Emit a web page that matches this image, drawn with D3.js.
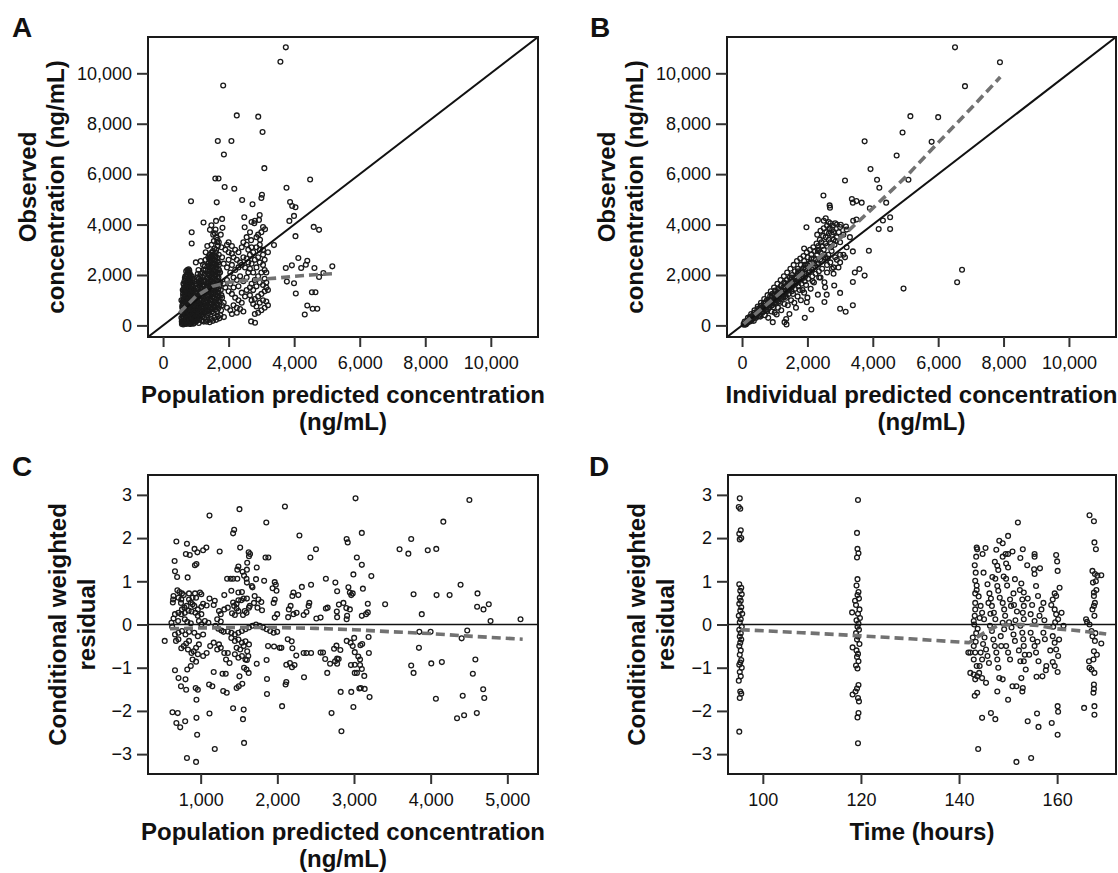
<!DOCTYPE html>
<html>
<head>
<meta charset="utf-8">
<script src="https://cdn.jsdelivr.net/npm/d3@7"></script>
<style>
  body { margin: 0; background: #fff; }
  svg { display: block; }
  text { font-family: Arial, "Liberation Sans", Helvetica, sans-serif; fill: #111; }
</style>
</head>
<body>
<svg id="chart" width="1118" height="873"></svg>
<script>
// ---------- data ----------

// A: population predicted (x) vs observed (y), ng/mL
const predObsPoints = [
  [3745,11030],[3580,10460],[1834,9515],[2249,8330],[2904,8280],[3035,7670],[1670,7317],[2085,7317],[1856,6777],[3090,6238],
  [1594,5830],[1692,5830],[4487,5790],[1878,5488],[2172,5422],[3766,5460],[852,4922],[1637,4882],[2413,4974],[2729,4803],
  [3000,5053],[3017,5185],[3875,4895],[3940,4737],[4040,4685],[3995,4343],[3853,4145],[2478,4290],[2926,4185],[2784,4053],
  [2948,4382],[4596,3908],[4760,3790],[4040,3540],[3384,3185],[873,3698],[873,3250],[1234,4080],[1616,4145],[1801,4224],
  [1474,3974],[1430,3790],[1812,3869],[2489,3895],[2653,3698],[2959,3395],[2686,3382],[3111,3816],[4127,2671],[4400,2566],
  [4356,2408],[4214,2276],[3930,2382],[3744,2276],[3777,1737],[3995,1671],[4619,2276],[4760,1921],[4891,2079],[5164,2342],
  [4050,1263],[4541,1316],[4650,1316],[4400,790],[4564,658],[4705,658],[4323,434],[2686,158],[2806,105],[1856,329],
  [1760,3600],[1700,3300],[1780,3100],[1900,3000],[2000,2900],[2100,2850],[2150,2700],[2250,2600],[2350,2500],[2450,2700],
  [2550,2650],[2600,2500],[2400,2400],[2300,2300],[2200,2200],[2100,2400],[2000,2600],[1950,2300],[1850,2450],[1800,2700],
  [2050,2100],[2150,1900],[2250,1800],[2350,1950],[1950,1800],[1850,1650],[1900,1500],[2000,1350],[2100,1250],[2200,1100],
  [2300,1000],[2400,900],[2150,800],[2250,700],[2050,600],[1950,700],[1850,900],[1800,1100],[2350,650],[2450,550],
  [2250,500],[2100,450],[2400,1300],[2500,1150],[2550,1400],[2150,1500],[2050,1650],[2300,1550],[2450,1750],[2550,1900],
  [2600,2100],[2500,2300],[2650,2800],[2750,2900],[2850,3100],[2950,3000],[3050,2800],[2900,2700],[2800,2600],[2700,2450],
  [2650,2250],[2750,2100],[2850,2300],[2950,2500],[3050,2400],[3100,2200],[3000,2100],[2900,1950],[2800,1800],[2700,1650],
  [2650,1500],[2750,1400],[2850,1550],[2950,1700],[3050,1600],[3150,1500],[3100,1350],[3000,1250],[2900,1150],[2800,1050],
  [2700,1000],[2650,1200],[2750,850],[2850,750],[2950,900],[3050,1000],[3150,950],[3200,800],[3100,700],[3000,600],
  [2900,500],[2800,450],[3150,1700],[3100,1850],[3200,1400],[2700,3100],[2600,3000],[2550,3200],[3050,3000],[3100,2600],
  [2950,3200],[3000,3700],[2900,3600],[2850,3500],[3050,3900],[2800,4150],[2700,4100],[2550,3500],[2400,3100],[2300,2900],
  [2200,3000],[2100,3150],[2000,3300],[1950,3200],[2450,3300],[3200,2900],[3150,2100],
  [600,100],[650,80],[700,60],[750,90],[800,70],[850,120],[900,150],[950,110],[620,200],[680,250],
  [720,180],[780,230],[830,300],[880,260],[930,220],[980,280],[610,350],[660,400],[710,330],[760,420],
  [810,380],[860,450],[910,400],[960,350],[640,500],[690,560],[740,480],[790,600],[840,530],[890,580],
  [940,520],[990,600],[600,650],[650,720],[700,680],[750,760],[800,700],[850,800],[900,740],[950,820],
  [620,880],[670,950],[720,900],[770,1000],[820,940],[870,1050],[920,980],[970,1100],[630,1050],[680,1150],
  [730,1100],[780,1200],[830,1150],[880,1250],[930,1200],[980,1300],[610,1250],[660,1350],[710,1300],[760,1400],
  [810,1350],[860,1450],[910,1500],[640,1500],[690,1600],[740,1550],[790,1650],[840,1700],[890,1620],[650,1750],
  [700,1850],[750,1800],[800,1900],[850,1950],[720,2000],[770,2100],[820,2050],[740,2200],[800,2180],[680,1950],
  [900,1850],[950,1750],[1000,1650],[560,300],[580,500],[570,150],[590,800],[560,1000],[600,1400],[620,1650],
  [575,60],[615,40],[660,130],[705,110],[745,160],[790,140],[835,60],[880,90],[925,70],[965,180],
  [590,260],[635,310],[675,190],[725,270],[770,330],[815,210],[860,340],[905,310],[945,260],[995,420],
  [605,460],[650,580],[695,440],[735,610],[775,520],[820,470],[865,650],[915,630],[955,560],[585,720],
  [630,830],[675,760],[715,820],[760,870],[805,810],[845,900],[895,880],[945,930],[600,960],[645,1000],
  [690,1060],[735,980],[785,1080],[825,1020],[875,1150],[920,1090],[965,1180],[615,1150],[655,1220],[700,1190],
  [745,1260],[790,1300],[840,1270],[885,1380],[935,1330],[625,1360],[675,1450],[720,1420],[765,1500],[815,1470],
  [860,1560],[905,1400],[645,1620],[695,1700],[735,1680],[775,1750],[825,1800],[870,1730],[665,1880],[715,1930],
  [760,1970],[810,2000],[755,2120],[705,2150],[780,2230],[830,1880],[880,1950],
  [1020,200],[1060,300],[1100,250],[1150,400],[1200,350],[1250,500],[1050,500],[1100,650],[1150,600],[1200,750],
  [1250,700],[1030,800],[1080,900],[1130,850],[1180,1000],[1230,950],[1050,1100],[1100,1200],[1150,1150],[1200,1300],
  [1250,1250],[1080,1400],[1130,1500],[1180,1450],[1230,1600],[1100,1700],[1160,1800],[1210,1900],[1260,2000],[1050,1900],
  [1290,2200],[1220,2400],[1150,2550],[1000,2500],[1300,2600],[1280,1400],[1290,900],[1270,300],[1010,1000],[1040,1300],
  [1010,150],[1090,100],[1170,200],[1240,150],[1120,480],[1190,550],[1070,700],[1160,820],[1240,850],[1020,1150],
  [1120,1050],[1210,1150],[1060,1500],[1190,1600],[1260,1750],[1130,1950],[1200,2100],[1080,2200],
  [1035,380],[1085,420],[1135,300],[1185,180],[1225,430],[1275,620],[1015,620],[1065,780],[1115,760],[1165,680],
  [1215,880],[1265,1050],[1005,1250],[1045,920],[1095,1020],[1145,1300],[1195,1200],[1245,1400],[1025,1450],[1075,1600],
  [1125,1650],[1175,1700],[1225,1780],[1275,1550],[1035,1750],[1085,1850],[1145,2050],[1235,2200],[1275,2350],[1060,2050],
  [1320,150],[1370,200],[1420,130],[1470,250],[1520,180],[1570,300],[1620,220],[1670,350],[1720,280],[1340,400],
  [1390,480],[1440,420],[1490,550],[1540,500],[1590,620],[1640,560],[1690,680],[1330,700],[1380,780],[1430,720],
  [1480,850],[1530,800],[1580,920],[1630,870],[1680,1000],[1730,950],[1350,1000],[1400,1080],[1450,1020],[1500,1150],
  [1550,1100],[1600,1230],[1650,1180],[1700,1300],[1320,1300],[1370,1380],[1420,1320],[1470,1450],[1520,1400],[1570,1530],
  [1620,1480],[1670,1600],[1720,1550],[1340,1600],[1390,1680],[1440,1620],[1490,1750],[1540,1700],[1590,1830],[1640,1780],
  [1690,1900],[1360,1900],[1410,1980],[1460,1920],[1510,2050],[1560,2000],[1610,2130],[1660,2080],[1710,2200],[1380,2200],
  [1430,2280],[1480,2350],[1530,2300],[1580,2430],[1630,2380],[1680,2500],[1400,2500],[1450,2580],[1500,2650],[1550,2600],
  [1600,2730],[1650,2680],[1700,2800],[1420,2800],[1470,2880],[1520,2950],[1570,3050],[1620,3000],[1670,3150],[1480,3200],
  [1550,3350],[1620,3500],[1580,3650],[1530,3600],[1650,3300],[1350,3150],[1300,2900],[1700,2400],[1740,2100],[1750,1700],
  [1760,1400],[1780,1200],[1800,800],[1770,600],[1750,400],[1380,2700],[1600,3800],[1660,3400],
  [1310,550],[1360,620],[1410,580],[1460,700],[1510,650],[1560,760],[1610,720],[1660,820],[1710,800],[1320,900],
  [1370,950],[1430,880],[1480,1000],[1530,960],[1580,1080],[1630,1040],[1680,1150],[1730,1100],[1340,1180],[1390,1230],
  [1440,1170],[1490,1300],[1540,1260],[1590,1380],[1640,1330],[1690,1450],[1330,1470],[1380,1530],[1430,1480],[1480,1600],
  [1530,1560],[1580,1680],[1630,1640],[1680,1760],[1350,1750],[1400,1830],[1450,1780],[1500,1900],[1550,1860],[1600,1980],
  [1650,1940],[1700,2050],[1370,2050],[1420,2130],[1470,2080],[1520,2200],[1570,2160],[1620,2280],[1670,2240],[1390,2350],
  [1440,2420],[1490,2500],[1540,2450],[1590,2580],[1640,2540],[1410,2650],[1460,2720],[1510,2800],[1560,2760],[1610,2880]
];
const predObsTrend = [[500,500],[1000,1150],[1500,1550],[2000,1710],[2500,1780],[3000,1830],[3500,1880],[4000,1950],[4500,2000],[5200,2050]];

// B: individual predicted (x) vs observed (y), ng/mL
const ipredObsPoints = [
  [6515,11030],[7890,10440],[6820,9490],[5150,8300],[6000,8260],[4910,7650],[3750,7300],[5800,7280],[4730,6740],[3930,6200],
  [3150,5750],[4130,5780],[4200,5460],[5090,5780],[2490,5150],[3360,5010],[3500,4930],[3660,4870],[3390,4870],[4410,4870],
  [3910,4650],[2680,4760],[2690,4670],[4530,4290],[4310,4160],[4180,3820],[4530,3820],[2320,4185],[1970,3895],[2560,4250],
  [2850,4050],[3020,3990],[3180,3920],[3390,2935],[3880,2960],[1900,3050],[3590,2240],[3450,2100],[3750,1975],[3390,1720],
  [2820,1580],[2520,1710],[2540,1510],[2320,1220],[2590,1220],[3000,1290],[2520,930],[3390,800],[3000,660],[3170,540],
  [4940,1460],[6580,1710],[6730,2210],[1920,300],[2120,630],[1980,920],[940,130],[1360,40],[1300,130],[1060,430],
  [50,60],[100,90],[150,180],[200,150],[250,280],[300,260],[350,420],[400,380],[450,520],[500,480],
  [550,600],[600,700],[650,620],[700,850],[750,780],[800,950],[850,900],[900,1100],[950,1000],[1000,1200],
  [1050,1150],[1100,1300],[1150,1250],[1200,1400],[1250,1350],[1300,1550],[1350,1500],[1400,1650],[1450,1600],[1500,1800],
  [1550,1750],[1600,1900],[1650,1850],[1700,2050],[1750,2000],[1800,2150],[1850,2100],[1900,2300],[1950,2250],[2000,2400],
  [2100,2500],[2200,2650],[2300,2800],[2400,2900],[2500,3000],[2600,3150],[2700,3300],[2800,3400],
  [120,50],[220,200],[320,250],[420,350],[520,420],[620,500],[720,600],[820,700],[920,800],[1020,900],
  [1120,950],[1220,1050],[1320,1150],[1420,1250],[1520,1350],[1620,1450],[1720,1550],[1820,1650],[1920,1750],[2020,1850],
  [2150,1950],[2250,2050],[2350,2150],[2450,2250],[2600,2400],[2700,2500],[2850,2700],
  [180,300],[280,450],[380,600],[480,750],[580,900],[680,1050],[780,1200],[880,1350],[980,1500],[1080,1650],
  [1180,1800],[1280,1950],[1380,2100],[1480,2250],[1580,2400],[1680,2550],[1780,2650],[1880,2750],[1980,2900],[2080,3000],
  [2180,3100],[2280,3250],[2380,3400],[2480,3550],[2580,3700],[2680,3850],[2780,3950],
  [700,400],[900,550],[1100,700],[1300,850],[1500,1000],[1700,1150],[1900,1300],[2100,1450],[1200,600],[1400,800],
  [1600,900],[1800,1000],[2000,1100],[1000,500],[800,300],[1350,250],[1450,450],[1650,700],[1850,1400],[2200,1700],
  [2400,1900],[2600,2100],[2800,2300],[2900,2600],[3000,2800],
  [60,30],[130,120],[240,220],[340,330],[440,440],[540,540],[640,650],[740,720],[840,820],[940,950],
  [1040,1050],[1140,1150],[1240,1230],[1340,1350],[1440,1420],[1540,1550],[1640,1650],[1740,1750],[1840,1850],[1940,1950],
  [2040,2100],[2140,2200],[2240,2350],[2340,2450],[2440,2550],[2540,2700],[2640,2800],[2740,2950],
  [2300,3600],[2400,3750],[2500,3850],[2600,3950],[2700,4050],[2800,3700],[2900,3500],[3000,3300],[3100,3600],[3200,3800],
  [2750,3600],[2650,3400],[2550,3250],[2450,3150],[2350,3000],[2900,4000],[3000,3900],[2650,4100],[2500,4150],[3300,3500],
  [3400,4150],[3500,4200],[3200,3100],[3100,2800],[3000,2500],[2950,2300],[3150,2700],[2800,2050],[2750,2250],
  [80,150],[170,110],[230,330],[290,200],[370,500],[430,300],[470,650],[530,380],[570,780],[630,560],
  [670,900],[710,700],[760,1000],[790,640],[860,1150],[880,780],[930,1250],[970,880],[1010,1380],[1070,980],
  [1110,1450],[1160,1060],[1190,1560],[1260,1120],[1290,1700],[1330,1250],[1370,1800],[1410,1380],[1460,1900],[1500,1500],
  [1530,2000],[1570,1620],[1620,2150],[1660,1700],[1710,2250],[1760,1850],[1800,2400],[1860,1950],[1900,2550],[1960,2050],
  [2010,2700],[2060,2150],[2120,2800],[2170,2300],[2230,2950],[2290,2450],[2330,3150],[2390,2600],[2430,3300],[2520,2800],
  [2560,3500],[2620,2650],[2660,3650],[2720,3100],[2760,3800],[2830,3200],[2870,3350],[2960,3700],
  [110,40],[260,160],[360,180],[460,420],[560,350],[660,780],[760,560],[860,1000],[960,720],[1060,1260],
  [1160,900],[1260,1500],[1360,1100],[1460,1700],[1560,1250],[1660,1950],[1760,1400],[1860,2250],[1960,1600],[2060,2450],
  [2160,1750],[2260,2600],[2360,1900],[2460,2750],
  [320,380],[520,650],[720,920],[920,1180],[1120,1400],[1320,1650],[1520,1900],[1720,2150],[1920,2400],[2120,2650],[2320,2950]
];
const ipredObsTrend = [[50,60],[1000,1100],[2000,2250],[3000,3450],[4000,4650],[5000,5880],[6000,7250],[7000,8600],[7900,9850]];

// C: population predicted (x) vs conditional weighted residual (y)
const predCwresPoints = [
  [3020,2.92],[4505,2.88],[2099,2.73],[1506,2.67],[1115,2.52],[4165,2.38],[1856,2.36],[1437,2.19],[1423,2.11],[2288,2.06],
  [3102,2.12],[2904,1.98],[2918,1.9],[3746,1.98],[683,1.92],[821,1.87],[2504,1.74],[3594,1.74],[3709,1.64],[3962,1.72],
  [4073,1.75],[1074,1.78],[1032,1.72],[1248,1.69],[1515,1.78],[920,1.75],[807,1.63],[858,1.61],[957,1.67],[660,1.47],
  [925,1.37],[945,1.4],[665,1.23],[693,1.1],[830,1.09],[2431,1.55],[3037,1.55],[3102,1.38],[2992,1.16],[3226,1.12],
  [2633,1.06],[2757,0.97],[2780,0.77],[2440,0.92],[2320,0.87],[4390,0.92],[3777,0.7],[4247,0.68],[4077,0.68],[4611,0.72],
  [3406,0.47],[3884,0.24],[4606,0.41],[4689,0.35],[4758,0.47],[4781,0.08],[5172,0.12],[4477,-0.14],[4404,-0.32],[3852,-0.17],
  [3999,-0.17],[3847,-0.54],[531,-0.38],[3746,-0.95],[3777,-1.12],[4008,-0.9],[4146,-0.87],[4583,-0.81],[4550,-1.14],[4685,-1.5],
  [4699,-1.7],[4068,-1.72],[4418,-1.65],[4602,-2.05],[4436,-2.1],[4344,-2.17],[3203,-1.68],[3139,-1.49],[3070,-1.48],[2964,-1.56],
  [2826,-1.56],[2992,-1.91],[2707,-2.05],[2836,-2.47],[2062,-1.89],[2348,-1.22],[2117,-1.33],[2108,-1.39],[1865,-1.26],[1865,-1.61],
  [1561,-1.97],[1566,-2.74],[1552,-2.19],[1423,-1.94],[1184,-2.88],[1115,-2.06],[945,-2.16],[954,-2.55],[821,-3.09],[940,-3.18],
  [632,-2.03],[701,-2.05],[733,-2.38],[798,-2.24],[683,-2.28],[743,-1.43],[711,-1.24],[665,-1.06],[802,-1.27],[811,-1.51],
  [935,-1.47],[963,-1.51],[945,-1.74],[1110,-1.39],[1152,-1.43],[1294,-1.54],[1340,-1.58],[1170,-1.1],[1285,-1.14],[1327,-1.14],
  [1469,-1.47],[1497,-1.43],[1506,-1.2],[1543,-1.37],[1626,-1.12],[1566,-1.0],[1598,-1.04],[1603,-0.82],[1621,-0.73],[1731,-0.91],
  [1860,-0.82],[1879,-0.5],[1957,-0.51],[2030,-0.54],[2053,-0.54],[2117,-0.93],[2164,-0.89],[2191,-0.99],[2224,-0.94],[2196,-0.55],
  [2187,-0.39],[2136,-0.34],[2247,-0.72],[2343,-0.66],[2380,-0.66],[2440,-0.66],[2564,-0.65],[2596,-0.65],[2624,-0.8],[2688,-0.91],
  [2753,-0.85],[2651,-1.12],[2771,-0.49],[2740,-0.56],[2780,-0.79],[2800,-0.8],[2780,-0.91],[2822,-0.59],[2905,-0.38],[2956,-0.42],
  [3002,-0.31],[2983,-0.5],[3010,-0.64],[3056,-0.74],[2960,-0.94],[3010,-0.93],[3010,-1.12],[3038,-1.12],[3079,-0.81],[3079,-0.94],
  [3102,-1.03],[3134,-1.19],[3088,-1.47],[3107,-0.45],[3084,-0.48],[3190,-0.29],[3194,-0.66],[3180,0.28],[3157,0.24],[3102,0.2],
  [2910,0.2],[2904,0.12],[2900,0.38],[2946,0.35],[2862,0.5],[2803,0.46],[2946,0.74],[2983,0.72],[2964,0.68],[2927,0.86],
  [3116,0.83],[3180,0.48],[2776,0.3],[2780,0.17],[2656,0.39],[2633,0.37],[2564,0.16],[2509,0.14],[2417,0.5],[2408,0.43],
  [2380,0.29],[2343,0.22],[2274,0.68],[2210,0.74],[2196,0.66],[2173,0.43],[2150,0.35],[2210,0.24],[2251,0.27],[2141,0.17],
  [1998,0.24],[1966,0.16],[1952,0.5],[1966,0.58],[1980,0.92],[1966,0.98],[1938,0.84],[1989,0.78],[1828,1.01],[1846,1.55],
  [1883,1.55],[1722,1.05],[1731,1.32],[1607,1.43],[1630,1.58],[1644,1.63],[1626,1.67],[1603,1.27],[1547,1.22],[1566,1.13],
  [1598,1.06],[1603,0.97],[1478,1.27],[1492,1.34],[1478,1.06],[1423,1.06],[1391,1.06],[1345,1.06],[1308,0.68],[1400,0.78],
  [1492,0.74],[1538,0.75],[1667,0.89],[1676,0.86],[1704,0.66],[1754,0.58],[1791,0.52],[1695,0.5],[1741,0.39],[1800,0.33],
  [1630,0.39],[1640,0.43],[1603,0.6],[1561,0.6],[1529,0.56],[1492,0.56],[1469,0.48],[1423,0.51],[1437,0.43],[1469,0.37],
  [1492,0.31],[1575,0.31],[1598,0.27],[1409,0.26],[1446,0.22],[1552,0.22],[1354,0.39],[1308,0.35],[1239,0.31],[1262,0.24],
  [1216,0.12],[1262,0.07],[1170,0.45],[1184,0.55],[1115,0.6],[1078,0.44],[1032,0.48],[1009,0.41],[991,0.74],[1009,0.7],
  [926,0.72],[940,0.62],[894,0.62],[848,0.72],[779,0.68],[756,0.72],[723,0.75],[696,0.79],[710,0.62],[743,0.5],
  [747,0.58],[646,0.66],[641,0.58],[637,0.51],[848,0.58],[871,0.51],[894,0.47],[917,0.43],[816,0.43],[788,0.39],
  [756,0.35],[843,0.32],[880,0.3],[931,0.27],[963,0.35],[793,0.27],[747,0.24],[710,0.27],[665,0.24],[646,0.14],
  [706,0.08],[793,0.12],[825,0.06],[871,0.03],[977,0.08],[1009,0.0],[1055,0.08],[1101,0.04],[963,0.2],[1009,0.24],
  [1193,-0.03],[1230,-0.1],[1271,-0.14],[1299,-0.17],[1354,-0.16],[1400,-0.19],[1446,-0.23],[1492,-0.19],[1538,-0.15],[1584,-0.11],
  [1630,-0.07],[1676,-0.03],[1722,0.0],[1768,-0.03],[1814,-0.07],[1860,-0.11],[1906,-0.15],[1952,-0.19],[1998,-0.17],[1400,-0.31],
  [1446,-0.38],[1492,-0.35],[1538,-0.42],[1584,-0.39],[1630,-0.46],[1469,-0.54],[1515,-0.58],[1561,-0.5],[1607,-0.62],[1446,-0.69],
  [1492,-0.77],[1538,-0.73],[1584,-0.81],[1354,-0.66],[1331,-0.81],[1377,-0.89],[1239,-0.46],[1216,-0.58],[1262,-0.54],[1308,-0.66],
  [1170,-0.42],[1124,-0.5],[1078,-0.66],[1032,-0.73],[977,-0.46],[940,-0.54],[908,-0.62],[963,-0.69],[848,-0.38],[811,-0.44],
  [779,-0.5],[747,-0.55],[710,-0.34],[678,-0.38],[834,-0.58],[880,-0.66],[894,-0.81],[940,-0.86],[871,-0.96],[825,-1.04],
  [710,-0.19],[756,-0.15],[802,-0.23],[848,-0.17],[665,-0.23],[917,-0.19],[963,-0.27],[1032,-0.23],[619,0.04],[628,-0.05]
];
const predCwresTrend = [[600,-0.1],[1000,-0.08],[1500,-0.07],[2000,-0.07],[2500,-0.09],[3000,-0.12],[3500,-0.17],[4000,-0.21],[4500,-0.27],[5200,-0.34]];

// D: time after dose (hours, x) vs conditional weighted residual (y)
const timeCwresPoints = [
  [95.3,2.92],[95.1,2.72],[95.4,2.68],[95.5,2.18],[95.2,2.1],[95.6,2.0],[95.3,1.97],[95.2,0.93],[95.6,0.85],[95.4,0.78],
  [95.7,0.7],[95.3,0.62],[95.5,0.55],[95.2,0.48],[95.6,0.4],[95.4,0.32],[95.8,0.25],[95.1,0.2],[95.5,0.12],[95.3,0.05],
  [95.7,-0.05],[95.2,-0.12],[95.5,-0.2],[95.3,-0.28],[95.6,-0.35],[95.4,-0.42],[95.2,-0.5],[95.5,-0.6],[95.3,-0.7],[95.6,-0.82],
  [95.4,-0.88],[95.2,-0.93],[95.7,-1.0],[95.3,-1.1],[95.5,-1.2],[95.1,-1.3],[95.4,-1.55],[95.6,-1.6],[95.3,-1.7],[95.2,-2.48],
  [119.4,2.88],[119.2,2.12],[119.3,1.75],[119.5,1.65],[119.2,1.55],[119.3,1.05],[119.1,0.9],[119.5,0.75],[119.3,0.68],[119.6,0.6],
  [118.8,0.55],[119.0,0.45],[119.7,0.35],[118.2,0.28],[119.4,0.25],[119.8,0.15],[119.1,0.1],[119.5,0.02],[119.3,-0.05],[119.6,-0.12],
  [119.0,-0.2],[119.4,-0.28],[119.2,-0.35],[119.7,-0.45],[118.3,-0.53],[119.1,-0.6],[119.4,-0.68],[119.2,-0.75],[119.5,-0.85],[119.0,-0.95],
  [119.3,-1.02],[119.5,-1.4],[119.2,-1.48],[118.9,-1.55],[118.3,-1.62],[119.4,-1.7],[119.6,-1.78],[119.5,-2.05],[119.3,-2.15],[119.4,-2.75],
  [152.0,2.36],[150.0,2.05],[148.2,1.94],[148.9,1.88],[153.0,1.74],[143.6,1.78],[143.7,1.74],[143.5,1.57],[145.4,1.77],[144.8,1.63],
  [147.6,1.73],[148.9,1.57],[149.5,1.63],[150.0,1.63],[150.9,1.69],[155.4,1.63],[155.4,1.57],[152.5,1.54],[153.9,1.37],[159.8,1.61],
  [160.0,1.46],[160.1,1.24],[143.2,1.37],[147.3,1.45],[147.8,1.36],[149.6,1.41],[150.0,1.32],[148.0,1.26],[155.3,1.28],[155.4,1.17],
  [149.1,1.11],[149.6,1.06],[147.4,1.06],[147.8,0.89],[145.8,0.93],[151.4,1.05],[143.3,1.01],[143.6,0.8],[143.3,0.72],[152.4,0.8],
  [153.2,0.74],[155.7,0.89],[156.1,0.66],[159.5,0.72],[159.8,0.66],[159.1,0.58],[151.1,0.72],[146.2,0.72],[146.5,0.6],[146.0,0.5],
  [146.7,0.43],[148.0,0.78],[148.3,0.62],[148.9,0.5],[149.2,0.35],[150.4,0.58],[150.6,0.43],[152.9,0.58],[153.2,0.43],[153.0,0.27],
  [153.2,0.12],[157.2,0.5],[156.8,0.35],[156.4,0.2],[154.6,0.24],[155.4,0.08],[159.5,0.35],[159.8,0.24],[160.2,0.12],[160.9,0.27],
  [161.3,-0.03],[143.3,0.5],[143.3,0.35],[143.2,0.2],[143.0,0.08],[144.4,0.43],[144.7,0.27],[145.1,0.12],[147.1,0.27],[147.4,0.12],
  [146.3,-0.03],[146.7,-0.15],[148.9,0.04],[149.2,-0.11],[148.5,-0.27],[150.7,-0.07],[151.1,-0.23],[151.4,-0.38],[152.5,-0.03],[152.9,-0.19],
  [153.1,-0.34],[153.2,-0.5],[154.6,-0.19],[155.0,-0.34],[155.4,-0.5],[155.7,-0.65],[157.2,-0.19],[157.5,-0.34],[159.1,-0.27],[159.5,-0.42],
  [159.8,-0.58],[160.2,-0.73],[143.0,-0.5],[143.3,-0.65],[142.3,-0.65],[141.9,-0.65],[143.0,-0.81],[143.6,-0.96],[144.4,-0.65],[144.7,-0.81],
  [144.2,-0.96],[145.5,-0.58],[145.8,-0.73],[146.1,-0.89],[147.3,-0.5],[147.6,-0.65],[147.8,-0.81],[148.0,-1.0],[149.6,-0.5],[150.0,-0.65],
  [150.4,-0.81],[142.3,-1.12],[143.0,-1.16],[143.7,-1.2],[143.3,-1.27],[144.1,-1.12],[144.7,-1.24],[145.5,-1.35],[143.7,-1.58],[143.2,-1.65],
  [148.2,-1.24],[148.9,-1.27],[147.8,-1.55],[150.0,-1.74],[150.9,-1.43],[151.7,-1.43],[152.7,-1.24],[153.0,-1.47],[152.9,-1.55],[153.2,-0.85],
  [153.6,-1.04],[152.5,-0.85],[155.8,-1.21],[157.8,-0.96],[157.7,-1.06],[159.1,-0.87],[159.5,-0.96],[160.1,-1.1],[144.7,-2.16],[146.5,-2.05],
  [147.4,-2.19],[143.9,-2.88],[154.0,-2.24],[155.9,-2.06],[156.2,-2.37],[158.9,-2.28],[160.1,-1.89],[160.2,-2.02],[160.1,-2.55],[151.7,-3.18],
  [154.7,-3.09],[143.1,0.0],[143.5,-0.2],[142.8,-0.3],[144.0,0.65],[145.0,1.2],[146.8,1.1],[151.8,0.3],[151.5,0.1],[154.0,0.6],
  [156.5,1.3],[158.8,0.45],[159.2,-0.05],[157.0,-1.2],[145.2,-0.3],[149.8,0.9],[154.3,-0.7],[156.2,-0.85],[160.5,0.85],[152.2,-0.6],
  [143.4,-0.4],[143.8,-0.1],[144.2,0.15],[143.6,0.9],[143.4,1.2],[144.9,-0.45],[146.4,0.25],[147.0,-0.35],[148.6,-0.5],[149.4,0.2],
  [150.2,0.05],[151.2,0.45],[152.7,0.95],[153.4,-0.7],[154.9,0.45],[156.0,-0.4],[157.4,0.1],[158.6,-0.6],[159.6,0.05],[160.4,-0.35],
  [166.6,2.53],[167.5,2.39],[167.6,1.9],[167.9,1.74],[167.2,1.24],[167.7,1.17],[168.2,1.13],[169.0,1.14],[167.3,0.97],[167.5,0.74],
  [167.5,0.66],[167.7,0.5],[167.5,0.43],[167.2,0.35],[167.6,0.2],[165.9,0.12],[166.1,0.06],[166.6,0.0],[167.0,-0.15],[167.2,-0.27],
  [167.7,-0.38],[169.0,-0.44],[167.5,-0.62],[167.4,-0.81],[166.5,-0.85],[167.0,-1.04],[167.6,-1.12],[167.5,-1.39],[167.5,-1.49],[167.4,-1.58],
  [165.5,-1.93],[167.6,-1.89],[167.6,-2.09],[166.6,-1.0],[168.0,0.8],[167.8,-0.2],[168.1,-0.7],[167.9,1.0]
];
const timeCwresTrend = [[95.5,-0.12],[108,-0.19],[119.5,-0.26],[130,-0.33],[142,-0.42],[145,-0.2],[148,-0.02],[152,0.0],[156,-0.02],[160,-0.1],[165,-0.15],[170,-0.22]];

// tick values
const concTicks = [0, 2000, 4000, 6000, 8000, 10000];
const predTicksC = [1000, 2000, 3000, 4000, 5000];
const residTicks = [-3, -2, -1, 0, 1, 2, 3];
const timeTicks = [100, 120, 140, 160];

// ---------- panels ----------
const panels = [
  { id: "A", letter: [12, 37], box: [148, 37, 538, 337],
    xDomain: [-460, 11440], yDomain: [-460, 11440], xTicks: concTicks, yTicks: concTicks,
    points: predObsPoints, trend: predObsTrend, ref: "identity",
    xTitle: ["Population predicted concentration", "(ng/mL)"], yTitle: ["Observed", "concentration (ng/mL)"], yTitleX: [36, 64] },
  { id: "B", letter: [590, 37], box: [727, 37, 1116, 337],
    xDomain: [-460, 11440], yDomain: [-460, 11440], xTicks: concTicks, yTicks: concTicks,
    points: ipredObsPoints, trend: ipredObsTrend, ref: "identity",
    xTitle: ["Individual predicted concentration", "(ng/mL)"], yTitle: ["Observed", "concentration (ng/mL)"], yTitleX: [615, 643] },
  { id: "C", letter: [12, 476], box: [148, 475, 538, 774],
    xDomain: [313, 5400], yDomain: [-3.46, 3.46], xTicks: predTicksC, yTicks: residTicks,
    points: predCwresPoints, trend: predCwresTrend, ref: "zero",
    xTitle: ["Population predicted concentration", "(ng/mL)"], yTitle: ["Conditional weighted", "residual"], yTitleX: [66, 95] },
  { id: "D", letter: [589, 476], box: [728, 475, 1116, 774],
    xDomain: [92.9, 172], yDomain: [-3.46, 3.46], xTicks: timeTicks, yTicks: residTicks,
    points: timeCwresPoints, trend: timeCwresTrend, ref: "zero",
    xTitle: ["Time (hours)"], yTitle: ["Conditional weighted", "residual"], yTitleX: [645, 674] }
];

const svg = d3.select("#chart");
const fmt = d3.format(",");

panels.forEach(function (p) {
  const [x0, y0, x1, y1] = p.box;
  const x = d3.scaleLinear().domain(p.xDomain).range([x0, x1]);
  const y = d3.scaleLinear().domain(p.yDomain).range([y1, y0]);

  const g = svg.append("g").attr("class", "panel-" + p.id);

  // clip to the plot frame
  g.append("clipPath").attr("id", "clip" + p.id)
    .append("rect").attr("x", x0).attr("y", y0).attr("width", x1 - x0).attr("height", y1 - y0);
  const plot = g.append("g").attr("clip-path", "url(#clip" + p.id + ")");

  // scatter (open circles)
  plot.selectAll("circle")
    .data(p.points)
    .join("circle")
    .attr("cx", d => x(d[0]))
    .attr("cy", d => y(d[1]))
    .attr("r", 2.4)
    .attr("fill", "none")
    .attr("stroke", "#1a1a1a")
    .attr("stroke-width", 1.3);

  // reference line
  if (p.ref === "identity") {
    plot.append("line")
      .attr("x1", x(p.xDomain[0])).attr("y1", y(p.xDomain[0]))
      .attr("x2", x(p.xDomain[1])).attr("y2", y(p.xDomain[1]))
      .attr("stroke", "#111").attr("stroke-width", 2);
  } else {
    plot.append("line")
      .attr("x1", x0).attr("x2", x1)
      .attr("y1", y(0)).attr("y2", y(0))
      .attr("stroke", "#111").attr("stroke-width", 1.6);
  }

  // smoothed trend, dashed grey
  plot.append("path")
    .datum(p.trend)
    .attr("d", d3.line().x(d => x(d[0])).y(d => y(d[1])))
    .attr("fill", "none")
    .attr("stroke", "#727272")
    .attr("stroke-width", 3.6)
    .attr("stroke-dasharray", "9,5");

  // frame
  g.append("rect")
    .attr("x", x0).attr("y", y0).attr("width", x1 - x0).attr("height", y1 - y0)
    .attr("fill", "none").attr("stroke", "#1a1a1a").attr("stroke-width", 2);

  // axes
  const xAxis = g.append("g")
    .attr("transform", `translate(0,${y1})`)
    .call(d3.axisBottom(x).tickValues(p.xTicks).tickFormat(fmt).tickSize(10).tickPadding(9));
  const yAxis = g.append("g")
    .attr("transform", `translate(${x0},0)`)
    .call(d3.axisLeft(y).tickValues(p.yTicks).tickFormat(fmt).tickSize(11).tickPadding(5));

  [xAxis, yAxis].forEach(function (ax) {
    ax.select(".domain").remove();
    ax.selectAll(".tick line").attr("stroke", "#333").attr("stroke-width", 2);
    ax.selectAll(".tick text")
      .attr("fill", "#111")
      .style("font-size", "18px")
      .style("font-family", "Arial, 'Liberation Sans', Helvetica, sans-serif");
  });

  // x title
  const cx = (x0 + x1) / 2;
  p.xTitle.forEach(function (t, i) {
    g.append("text")
      .attr("x", cx).attr("y", y1 + 66 + i * 27)
      .attr("text-anchor", "middle")
      .style("font-size", "24px").style("font-weight", "bold")
      .text(t);
  });

  // y title (rotated)
  const cy = (y0 + y1) / 2;
  p.yTitle.forEach(function (t, i) {
    g.append("text")
      .attr("transform", `translate(${p.yTitleX[i]},${cy}) rotate(-90)`)
      .attr("text-anchor", "middle")
      .style("font-size", "24px").style("font-weight", "bold")
      .text(t);
  });

  // panel letter
  g.append("text")
    .attr("x", p.letter[0]).attr("y", p.letter[1])
    .style("font-size", "28px").style("font-weight", "bold")
    .text(p.id);
});
</script>
</body>
</html>
